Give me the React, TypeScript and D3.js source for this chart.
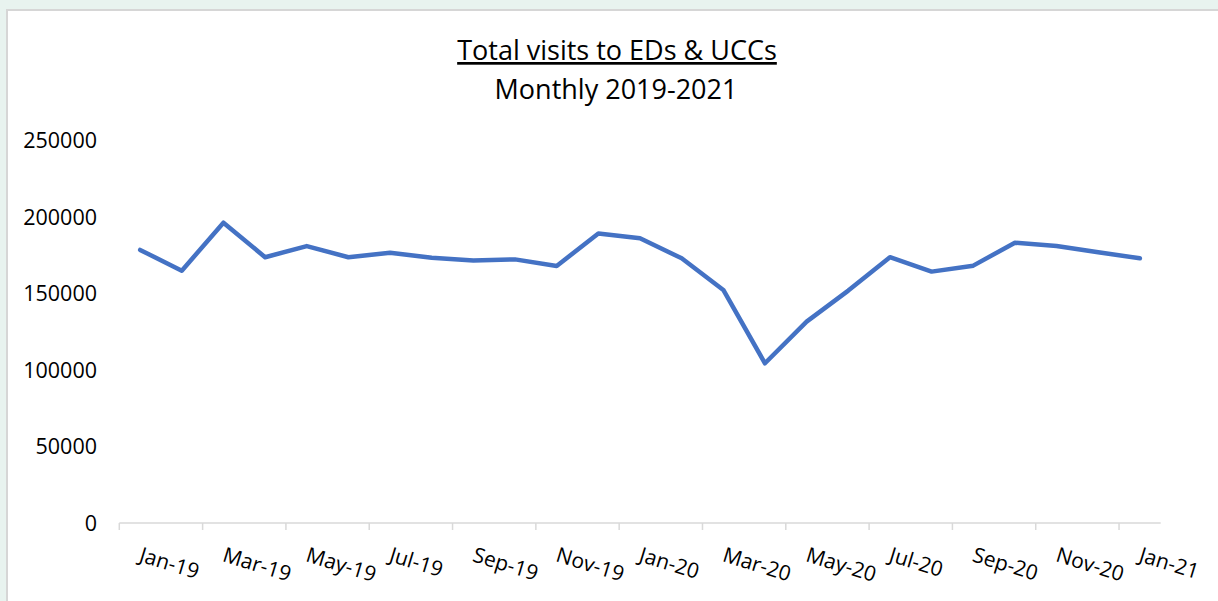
import React, { useEffect, useRef } from 'react';
import * as d3 from 'd3';

// months shown on the x axis (one point per month)
const months = [
  'Jan-19', 'Feb-19', 'Mar-19', 'Apr-19', 'May-19', 'Jun-19', 'Jul-19', 'Aug-19',
  'Sep-19', 'Oct-19', 'Nov-19', 'Dec-19', 'Jan-20', 'Feb-20', 'Mar-20', 'Apr-20',
  'May-20', 'Jun-20', 'Jul-20', 'Aug-20', 'Sep-20', 'Oct-20', 'Nov-20', 'Dec-20', 'Jan-21',
];

// total visits per month
const visits = [
  178500, 164900, 196300, 173700, 181000, 173700, 176700, 173400,
  171500, 172300, 168000, 189200, 186100, 173000, 152300, 104400,
  131600, 151900, 173700, 164300, 168200, 183200, 181000, 176900, 173000,
];

const yTicks = [0, 50000, 100000, 150000, 200000, 250000];

const FONT = '"Open Sans", sans-serif';

function App() {
  const ref = useRef<SVGSVGElement | null>(null);

  useEffect(() => {
    const width = 1218;
    const height = 601;

    const svg = d3.select(ref.current);
    svg.selectAll('*').remove();
    svg.attr('width', width).attr('height', height);

    // page background + white chart panel
    svg.append('rect').attr('width', width).attr('height', height).attr('fill', '#e8f3ef');
    svg.append('rect')
      .attr('x', 7).attr('y', 10)
      .attr('width', width + 20).attr('height', height + 20)
      .attr('fill', 'white')
      .attr('stroke', '#d6d6d6')
      .attr('stroke-width', 2);

    // scales
    const x = d3.scaleBand().domain(months).range([119.3, 1160.7]);
    const y = d3.scaleLinear().domain([0, 250000]).range([523, 140.5]);

    // title
    const title = svg.append('text')
      .attr('text-anchor', 'middle')
      .attr('font-family', FONT)
      .attr('fill', '#000');
    title.append('tspan')
      .attr('x', 617).attr('y', 60)
      .attr('font-size', 27)
      .attr('text-decoration', 'underline')
      .text('Total visits to EDs & UCCs');
    title.append('tspan')
      .attr('x', 616).attr('y', 99)
      .attr('font-size', 27)
      .text('Monthly 2019-2021');

    // y axis labels (no line, no grid)
    svg.append('g')
      .selectAll('text')
      .data(yTicks)
      .enter()
      .append('text')
      .attr('x', 97)
      .attr('y', d => y(d))
      .attr('dy', '0.36em')
      .attr('text-anchor', 'end')
      .attr('font-family', FONT)
      .attr('font-size', 21.5)
      .attr('fill', '#000')
      .text(d => String(d));

    // x axis line
    svg.append('line')
      .attr('x1', x.range()[0]).attr('x2', x.range()[1])
      .attr('y1', y(0)).attr('y2', y(0))
      .attr('stroke', '#d9d9d9')
      .attr('stroke-width', 1.5);

    // ticks every 2 months, at the band edge
    const shown = months.filter((_, i) => i % 2 === 0);
    svg.append('g')
      .selectAll('line')
      .data(shown)
      .enter()
      .append('line')
      .attr('x1', d => x(d)!).attr('x2', d => x(d)!)
      .attr('y1', y(0)).attr('y2', y(0) + 7)
      .attr('stroke', '#d9d9d9')
      .attr('stroke-width', 1.5);

    // rotated month labels
    svg.append('g')
      .selectAll('text')
      .data(shown)
      .enter()
      .append('text')
      .attr('transform', d => `translate(${x(d)! + x.bandwidth() / 2 + 3}, 545) rotate(17)`)
      .attr('dy', '0.8em')
      .attr('font-family', FONT)
      .attr('font-size', 21)
      .attr('fill', '#000')
      .text(d => d);

    // the line
    const line = d3.line<number>()
      .x((_, i) => x(months[i])! + x.bandwidth() / 2)
      .y(d => y(d));

    svg.append('path')
      .datum(visits)
      .attr('d', line)
      .attr('fill', 'none')
      .attr('stroke', '#4472c4')
      .attr('stroke-width', 4.5)
      .attr('stroke-linejoin', 'round')
      .attr('stroke-linecap', 'round');
  }, []);

  return (
    <svg ref={ref} style={{ position: 'fixed', left: 0, top: 0, display: 'block' }}></svg>
  );
}

export default App;
